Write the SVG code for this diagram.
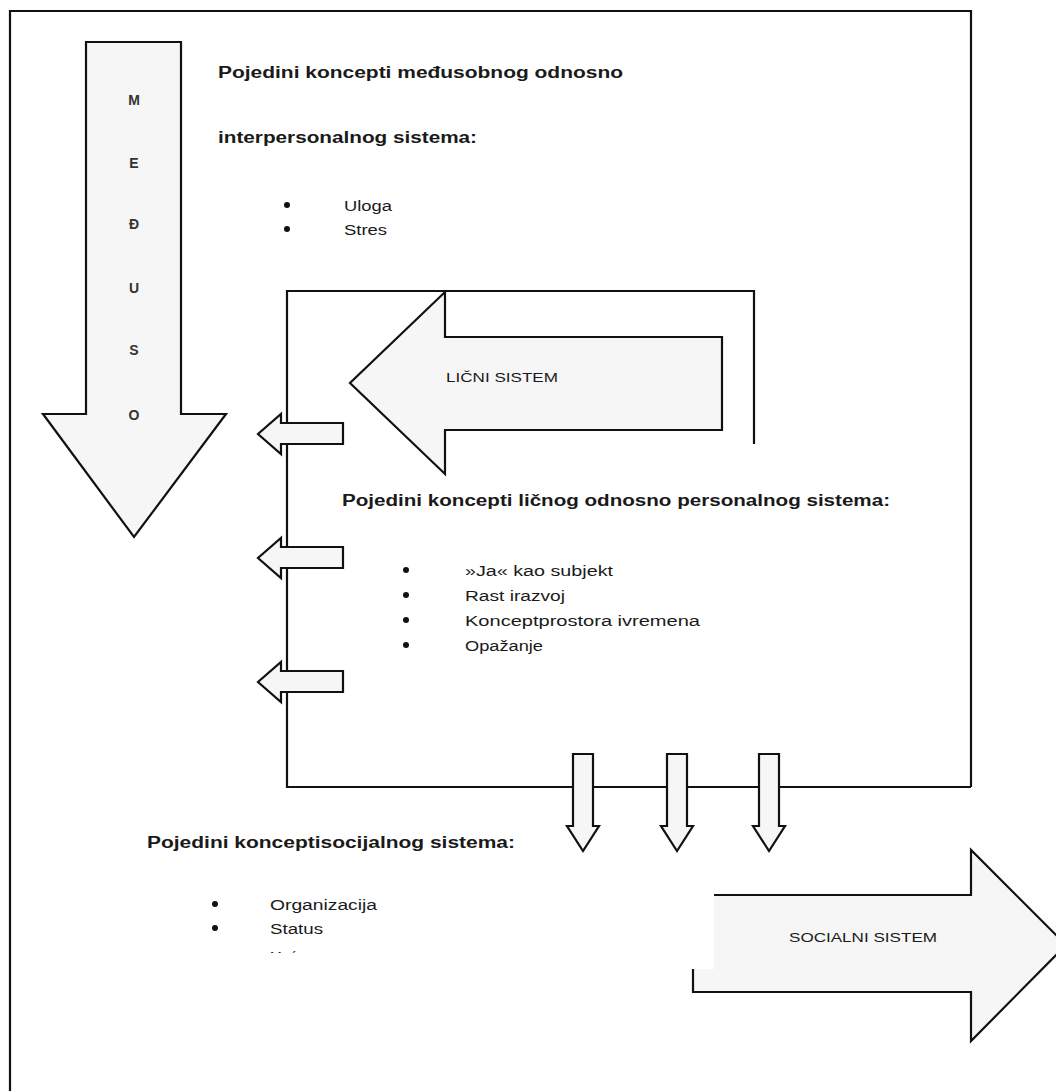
<svg xmlns="http://www.w3.org/2000/svg" width="1056" height="1091" viewBox="0 0 1056 1091">
<defs>
<style>
.ln{fill:none;stroke:#111;stroke-width:2.2}
.ar{fill:#f6f6f6;stroke:#111;stroke-width:2.2;stroke-linejoin:miter}
.hd{font-family:"Liberation Sans",Arial,sans-serif;font-size:16px;font-weight:bold;fill:#1a1a1a}
.it{font-family:"Liberation Sans",Arial,sans-serif;font-size:14px;fill:#1a1a1a}
.lb{font-family:"Liberation Sans",Arial,sans-serif;font-size:13px;fill:#1a1a1a}
.lt{font-family:"Liberation Sans",Arial,sans-serif;font-size:14px;font-weight:bold;fill:#333;text-anchor:middle}
.bl{fill:#111}
</style>
<clipPath id="cutMoc"><rect x="200" y="940" width="200" height="13"/></clipPath>
</defs>
<rect width="1056" height="1091" fill="#fff"/>

<g id="frames">
<path class="ln" d="M10,1095 V11 H971 V787"/>
<path class="ln" d="M971,787 H287 V291 H754 V444"/>
</g>

<g id="medjuso">
<polygon class="ar" points="86,42 181,42 181,414 226,414 134,537 43,414 86,414"/>
<text class="lt" x="134" y="105">M</text>
<text class="lt" x="134" y="168">E</text>
<text class="lt" x="134" y="229">Đ</text>
<text class="lt" x="134" y="293">U</text>
<text class="lt" x="134" y="355">S</text>
<text class="lt" x="134" y="420">O</text>
</g>

<g id="interpersonal-text">
<text class="hd" x="218" y="78" textLength="405" lengthAdjust="spacingAndGlyphs">Pojedini koncepti međusobnog odnosno</text>
<text class="hd" x="218" y="143" textLength="259" lengthAdjust="spacingAndGlyphs">interpersonalnog sistema:</text>
<circle class="bl" cx="287" cy="205" r="3"/>
<text class="it" x="344" y="211" textLength="48" lengthAdjust="spacingAndGlyphs">Uloga</text>
<circle class="bl" cx="287" cy="229" r="3"/>
<text class="it" x="344" y="235" textLength="43" lengthAdjust="spacingAndGlyphs">Stres</text>
</g>

<g id="licni-sistem">
<polygon class="ar" points="722,337 445,337 445,292 350,383 445,474 445,430 722,430"/>
<text class="lb" x="446" y="382" textLength="112" lengthAdjust="spacingAndGlyphs">LIČNI SISTEM</text>
</g>

<g id="personal-text">
<text class="hd" x="342" y="506" textLength="548" lengthAdjust="spacingAndGlyphs">Pojedini koncepti ličnog odnosno personalnog sistema:</text>
<circle class="bl" cx="406" cy="570" r="3"/>
<text class="it" x="465" y="576" textLength="148" lengthAdjust="spacingAndGlyphs">»Ja« kao subjekt</text>
<circle class="bl" cx="406" cy="595" r="3"/>
<text class="it" x="465" y="601" textLength="100" lengthAdjust="spacingAndGlyphs">Rast irazvoj</text>
<circle class="bl" cx="406" cy="620" r="3"/>
<text class="it" x="465" y="626" textLength="235" lengthAdjust="spacingAndGlyphs">Konceptprostora ivremena</text>
<circle class="bl" cx="406" cy="645" r="3"/>
<text class="it" x="465" y="651" textLength="78" lengthAdjust="spacingAndGlyphs">Opažanje</text>
</g>

<g id="connectors">
<polygon class="ar" points="343,423 281,423 281,414 258,434 281,454 281,444 343,444"/>
<polygon class="ar" points="343,547 281,547 281,538 258,558 281,578 281,568 343,568"/>
<polygon class="ar" points="343,671 281,671 281,662 258,682 281,702 281,692 343,692"/>
<polygon class="ar" points="573,754 593,754 593,826 599,826 583,851 567,826 573,826"/>
<polygon class="ar" points="667,754 687,754 687,826 693,826 677,851 661,826 667,826"/>
<polygon class="ar" points="759,754 779,754 779,826 785,826 769,851 753,826 759,826"/>
</g>

<g id="social-text">
<text class="hd" x="147" y="848" textLength="368" lengthAdjust="spacingAndGlyphs">Pojedini konceptisocijalnog sistema:</text>
<circle class="bl" cx="215" cy="904" r="3"/>
<text class="it" x="270" y="910" textLength="107" lengthAdjust="spacingAndGlyphs">Organizacija</text>
<circle class="bl" cx="215" cy="928" r="3"/>
<text class="it" x="270" y="934" textLength="53" lengthAdjust="spacingAndGlyphs">Status</text>
<text class="it" x="270" y="962" clip-path="url(#cutMoc)">Moć</text>
</g>

<g id="socijalni-sistem">
<polygon fill="#f6f6f6" points="714,895 971,895 971,850 1066,945 971,1041 971,992 693,992 693,969 714,969"/>
<path class="ln" d="M714,895 H971 V850 L1066,945 L971,1041 V992 H693 V969"/>
<text class="lb" x="789" y="942" textLength="148" lengthAdjust="spacingAndGlyphs">SOCIALNI SISTEM</text>
</g>
</svg>
